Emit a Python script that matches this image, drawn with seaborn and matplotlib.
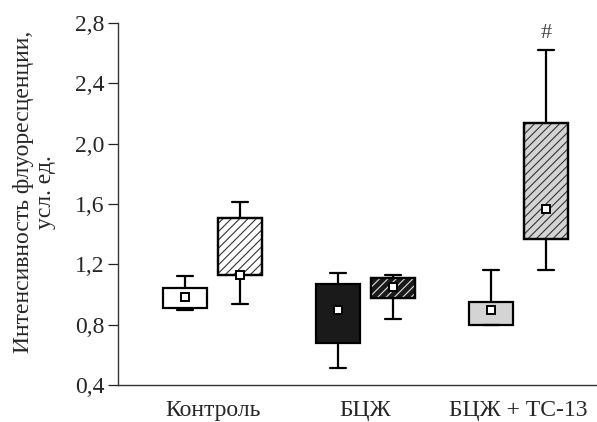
import numpy as np
import pandas as pd
import matplotlib
matplotlib.use("Agg")
import matplotlib.pyplot as plt
import seaborn as sns
from matplotlib.patches import PathPatch

# ---------------- data (five-number summaries: min, Q1, median, Q3, max) ----
categories = ["Контроль", "БЦЖ", "БЦЖ + ТС-13"]
series = ["Серия 1", "Серия 2"]
control_1 = [0.90, 0.91, 0.985, 1.04, 1.12]
control_2 = [0.94, 1.13, 1.13, 1.51, 1.61]
bcg_1 = [0.51, 0.68, 0.90, 1.07, 1.14]
bcg_2 = [0.84, 0.98, 1.05, 1.11, 1.13]
bcgtc_1 = [0.80, 0.80, 0.90, 0.95, 1.16]
bcgtc_2 = [1.16, 1.37, 1.57, 2.14, 2.62]
yticks = [0.4, 0.8, 1.2, 1.6, 2.0, 2.4, 2.8]
ytick_labels = ["0,4", "0,8", "1,2", "1,6", "2,0", "2,4", "2,8"]
ylabel = "Интенсивность флуоресценции,\nусл. ед."
mark = "#"

summaries = {
    (categories[0], series[0]): control_1,
    (categories[0], series[1]): control_2,
    (categories[1], series[0]): bcg_1,
    (categories[1], series[1]): bcg_2,
    (categories[2], series[0]): bcgtc_1,
    (categories[2], series[1]): bcgtc_2,
}
rows = []
for (g, s), vals in summaries.items():
    for v in vals:
        rows.append({"group": g, "series": s, "value": v})
df = pd.DataFrame(rows)

# ---------------- styling ----------------
sns.set_style("ticks")
plt.rcParams["font.family"] = ["Liberation Serif", "DejaVu Serif"]
plt.rcParams["hatch.linewidth"] = 0.8

fig = plt.figure(figsize=(5.97, 4.22), dpi=100)
ax = fig.add_axes([0.1977, 0.0877, 0.8023, 0.8578])

sns.boxplot(data=df, x="group", y="value", hue="series",
            order=categories, hue_order=series,
            whis=(0, 100), width=0.72, gap=0.2,
            palette=["white", "white"], linewidth=1.6, linecolor="black",
            showfliers=False, medianprops=dict(visible=False),
            capwidths=0.1, legend=False, ax=ax)

# per-box fills / hatches (left to right)
faces = ["white", "white", "#1a1a1a", "#1a1a1a", "#d4d4d4", "#d4d4d4"]
hatches = [None, "////", None, "////", None, "////"]
hatch_cols = [None, "#333333", None, "#e0e0e0", None, "#333333"]
boxes = sorted(ax.patches, key=lambda p: p.get_path().get_extents().x0)
for p, fc, h, hc in zip(boxes, faces, hatches, hatch_cols):
    p.set_facecolor(fc)
    p.set_edgecolor("black")
    if h:
        hp = PathPatch(p.get_path(), transform=p.get_transform(),
                       facecolor="none", edgecolor=hc, hatch=h,
                       linewidth=0, zorder=p.get_zorder() + 0.01)
        ax.add_patch(hp)
        ep = PathPatch(p.get_path(), transform=p.get_transform(),
                       facecolor="none", edgecolor="black",
                       linewidth=1.6, zorder=p.get_zorder() + 0.02)
        ax.add_patch(ep)

sns.pointplot(data=df, x="group", y="value", hue="series",
              order=categories, hue_order=series,
              estimator="median", errorbar=None, dodge=0.36,
              palette=["white", "white"], marker="s", linestyle="none",
              markersize=5.5, markeredgewidth=1.4, markeredgecolor="black",
              legend=False, ax=ax, zorder=10)

# significance mark above the last box
ax.annotate(mark, xy=(2 + 0.18, max(bcgtc_2)), xytext=(0, 12),
            textcoords="offset points", ha="center", va="center",
            fontsize=16, color="#444444")

ax.set_xlim(-0.618, 2.513)
ax.set_ylim(0.4, 2.8)
ax.set_yticks(yticks)
ax.set_yticklabels(ytick_labels)
ax.set_xlabel("")
ax.set_ylabel(ylabel, fontsize=17, linespacing=1.05)
ax.yaxis.label.set_va("center")
ax.yaxis.set_label_coords(-0.174, 0.533)

ax.tick_params(axis="y", direction="out", length=7, width=0.9,
               labelsize=17, pad=3, color="#222222")
ax.tick_params(axis="x", length=0, labelsize=17, pad=11)
for side in ["top", "right"]:
    ax.spines[side].set_visible(False)
for side in ["left", "bottom"]:
    ax.spines[side].set_linewidth(1.0)
    ax.spines[side].set_color("#333333")
ax.grid(False)

fig.savefig("out.png", dpi=100)
